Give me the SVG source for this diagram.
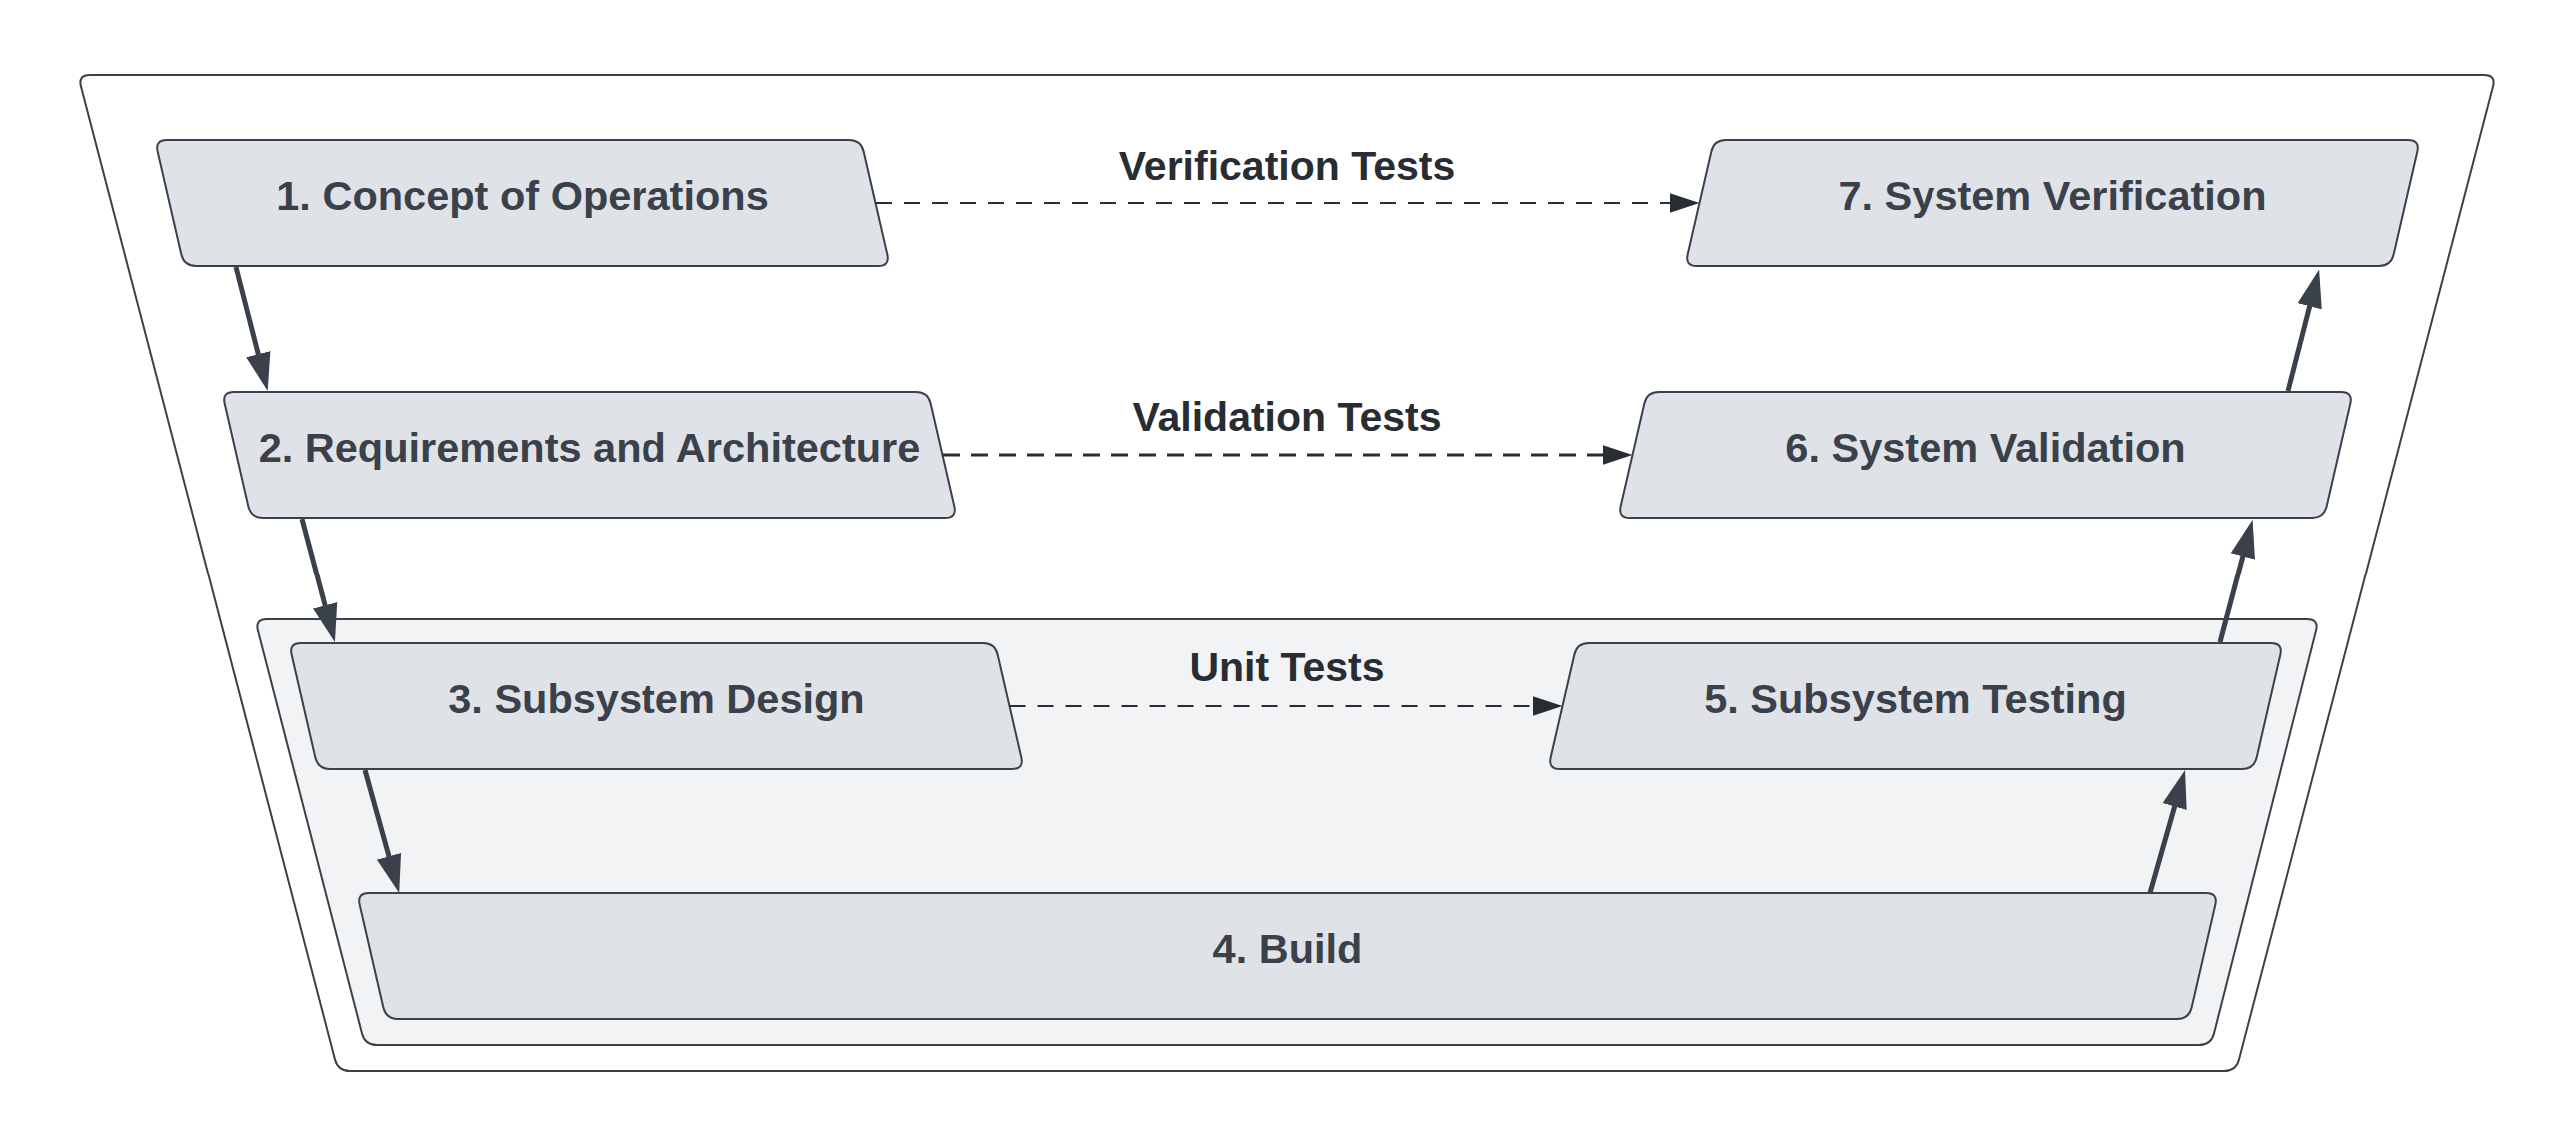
<svg xmlns="http://www.w3.org/2000/svg" width="2578" height="1148" viewBox="0 0 2578 1148">
  <style>
    .container { fill: #FFFFFF; stroke: #3A414A; stroke-width: 2; }
    .inner { fill: #F2F3F5; stroke: #3A414A; stroke-width: 2; }
    .node { fill: #DFE3E8; stroke: #3A414A; stroke-width: 2; }
    .ntext { font-family: "Liberation Sans", Arial, sans-serif; font-weight: bold; font-size: 41.5px; fill: #3A414A; text-anchor: middle; }
    .ltext { font-family: "Liberation Sans", Arial, sans-serif; font-weight: bold; font-size: 41px; fill: #282C33; text-anchor: middle; }
    .solid { fill: none; stroke: #3A414A; stroke-width: 5; marker-end: url(#ahSolid); }
    .dash { fill: none; stroke: #282C33; stroke-width: 2; stroke-dasharray: 16 12; marker-end: url(#ahDash); }
    .dash2 { fill: none; stroke: #282C33; stroke-width: 3; stroke-dasharray: 17 11; marker-end: url(#ahDash); }
  </style>
  <defs>
    <marker id="ahSolid" markerUnits="userSpaceOnUse" viewBox="0 -13 38 26" markerWidth="38" markerHeight="26" refX="13" refY="0" orient="auto">
      <path d="M0,-12.5 L38,0 L0,12.5 Z" fill="#3A414A"/>
    </marker>
    <marker id="ahDash" markerUnits="userSpaceOnUse" viewBox="0 -10 30 20" markerWidth="30" markerHeight="20" refX="20" refY="0" orient="auto">
      <path d="M0,-10 L30,0 L0,10 Z" fill="#282C33"/>
    </marker>
  </defs>

  <g id="outer-container">
    <path class="container" d="M90,75 L2486,75 Q2498,75 2495,86.6 L2241,1060.4 Q2238,1072 2226,1072 L350,1072 Q338,1072 335,1060.4 L81,86.6 Q78,75 90,75 Z"/>
  </g>
  <g id="inner-container">
    <path class="inner" d="M267,620 L2309,620 Q2321,620 2318,631.6 L2216,1034.4 Q2213,1046 2201,1046 L377,1046 Q365,1046 362,1034.4 L258,631.6 Q255,620 267,620 Z"/>
  </g>

  <g id="node1" transform="translate(155,140)">
    <path class="node" d="M12,0 L695,0 Q707,0 709.7,11.7 L733.3,114.3 Q736,126 724,126 L41,126 Q29,126 26.3,114.3 L2.7,11.7 Q0,0 12,0 Z"/>
    <text class="ntext" x="368" y="70">1. Concept of Operations</text>
  </g>
  <g id="node2" transform="translate(222,392)">
    <path class="node" d="M12,0 L695,0 Q707,0 709.7,11.7 L733.3,114.3 Q736,126 724,126 L41,126 Q29,126 26.3,114.3 L2.7,11.7 Q0,0 12,0 Z"/>
    <text class="ntext" x="368" y="70">2. Requirements and Architecture</text>
  </g>
  <g id="node3" transform="translate(289,644)">
    <path class="node" d="M12,0 L695,0 Q707,0 709.7,11.7 L733.3,114.3 Q736,126 724,126 L41,126 Q29,126 26.3,114.3 L2.7,11.7 Q0,0 12,0 Z"/>
    <text class="ntext" x="368" y="70">3. Subsystem Design</text>
  </g>
  <g id="node4" transform="translate(357,894)">
    <path class="node" d="M12,0 L1851,0 Q1863,0 1860.3,11.7 L1836.7,114.3 Q1834,126 1822,126 L41,126 Q29,126 26.3,114.3 L2.7,11.7 Q0,0 12,0 Z"/>
    <text class="ntext" x="931.5" y="70">4. Build</text>
  </g>
  <g id="node5" transform="translate(1578,644)">
    <path class="node" d="M12,0 L695,0 Q707,0 704.3,11.7 L680.7,114.3 Q678,126 666,126 L-17,126 Q-29,126 -26.3,114.3 L-2.7,11.7 Q0,0 12,0 Z"/>
    <text class="ntext" x="339" y="70">5. Subsystem Testing</text>
  </g>
  <g id="node6" transform="translate(1648,392)">
    <path class="node" d="M12,0 L695,0 Q707,0 704.3,11.7 L680.7,114.3 Q678,126 666,126 L-17,126 Q-29,126 -26.3,114.3 L-2.7,11.7 Q0,0 12,0 Z"/>
    <text class="ntext" x="339" y="70">6. System Validation</text>
  </g>
  <g id="node7" transform="translate(1715,140)">
    <path class="node" d="M12,0 L695,0 Q707,0 704.3,11.7 L680.7,114.3 Q678,126 666,126 L-17,126 Q-29,126 -26.3,114.3 L-2.7,11.7 Q0,0 12,0 Z"/>
    <text class="ntext" x="339" y="70">7. System Verification</text>
  </g>

  <g id="connectors">
    <path class="solid" d="M236,267 L261.5,366.8"/>
    <path class="solid" d="M302,519 L328.5,618.8"/>
    <path class="solid" d="M365,771 L392.5,869.8"/>
    <path class="solid" d="M2152,894 L2180.2,795"/>
    <path class="solid" d="M2222,643 L2248.2,544"/>
    <path class="solid" d="M2290,391 L2314.9,293.7"/>
    <path class="dash" d="M877,203 L1690.5,203"/>
    <path class="dash2" d="M944,455 L1623.5,455"/>
    <path class="dash" d="M1010.5,707 L1553.5,707"/>
    <text class="ltext" x="1288" y="180">Verification Tests</text>
    <text class="ltext" x="1288" y="431">Validation Tests</text>
    <text class="ltext" x="1288" y="682">Unit Tests</text>
  </g>
</svg>
